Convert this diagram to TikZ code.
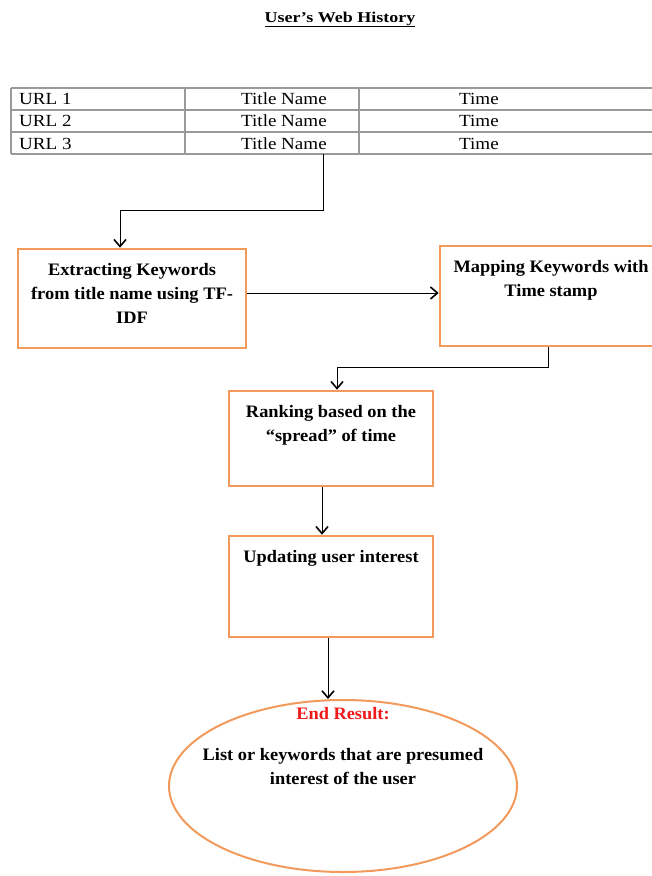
\documentclass[tikz,border=0pt]{standalone}
\usepackage{fontspec}
\setmainfont{Liberation Serif}
\newfontfamily\boxfont[FakeStretch=1.05]{Liberation Serif}
\newfontfamily\tabfont[FakeStretch=1.12]{Liberation Serif}
\newfontfamily\titfont[FakeStretch=1.2]{Liberation Serif}
\usetikzlibrary{arrows.meta,shapes.geometric}
\definecolor{boxorange}{HTML}{F29A5B}
\definecolor{tabgray}{HTML}{9A9A9A}
\definecolor{endred}{HTML}{F01A1A}
\newcommand{\boxtxt}[3]{\begin{minipage}[c][#2][t]{#1}\centering\boxfont\bfseries\fontsize{17.5}{24}\selectfont\vspace*{11pt}#3\end{minipage}}
\begin{document}
\begin{tikzpicture}[x=1pt,y=-1pt,
  stepbox/.style={draw=boxorange, line width=2.6pt, inner sep=0pt, fill=white},
  endell/.style={ellipse, draw=boxorange, line width=2pt, inner sep=0pt},
  flow/.style={draw=black, line width=1pt, -{Straight Barb[length=7pt,width=12pt,line width=1.6pt]}},
  cell/.style={anchor=base west, inner sep=0pt, font=\tabfont\fontsize{17}{20}\selectfont},
  tabline/.style={draw=tabgray, line width=1.4pt}]
\useasboundingbox (0,0) rectangle (652,876);

% title
\node[anchor=base, inner sep=0pt, font=\titfont\bfseries\fontsize{15}{18}\selectfont] (title) at (340,22) {\underline{User’s Web History}};

% table
\foreach \yy in {88,110,132,154} \draw[tabline] (11,\yy) -- (670,\yy);
\foreach \xx in {11,185,359} \draw[tabline] (\xx,88) -- (\xx,154);
\node[cell] (u1) at (19,104) {URL 1};
\node[cell] (t1) at (241,104) {Title Name};
\node[cell] (m1) at (459,104) {Time};
\node[cell] (u2) at (19,126.5) {URL 2};
\node[cell] (t2) at (241,126.5) {Title Name};
\node[cell] (m2) at (459,126.5) {Time};
\node[cell] (u3) at (19,149) {URL 3};
\node[cell] (t3) at (241,149) {Title Name};
\node[cell] (m3) at (459,149) {Time};
\coordinate (tabout) at (323,154);

% boxes
\node[stepbox, minimum width=228pt, minimum height=99pt] (extract) at (132,298.5)
  {\boxtxt{222pt}{93pt}{Extracting Keywords\\from title name using TF-\\IDF}};
\node[stepbox, minimum width=222pt, minimum height=100pt] (map) at (551,296)
  {\boxtxt{216pt}{94pt}{Mapping Keywords with\\Time stamp}};
\node[stepbox, minimum width=204pt, minimum height=95pt] (rank) at (331,438.5)
  {\boxtxt{198pt}{89pt}{Ranking based on the\\“spread” of time}};
\node[stepbox, minimum width=204pt, minimum height=101pt] (upd) at (331,586.5)
  {\boxtxt{198pt}{95pt}{Updating user interest}};

% ellipse
\node[endell, minimum width=348pt, minimum height=172pt] (result) at (343,786)
  {\smash{\makebox[0pt]{\raisebox{67pt}{\parbox[t]{330pt}{\centering\boxfont\bfseries\fontsize{17.5}{24}\selectfont
   \textcolor{endred}{End Result:}\\[17pt]List or keywords that are presumed\\interest of the user}}}}};

% connectors
\draw[flow] (tabout) -- ++(0,56) -| ([xshift=-12pt]extract.north);
\draw[flow] (extract.east |- 0,293) -- (map.west |- 0,293);
\draw[flow] ([xshift=-3pt]map.south) -- ++(0,20) -| ([xshift=6pt]rank.north);
\draw[flow] ([xshift=-9pt]rank.south) -- ([xshift=-9pt]upd.north);
\draw[flow] ([xshift=-3pt]upd.south) -- ([xshift=-3pt]upd.south |- result.north);
\end{tikzpicture}
\end{document}
